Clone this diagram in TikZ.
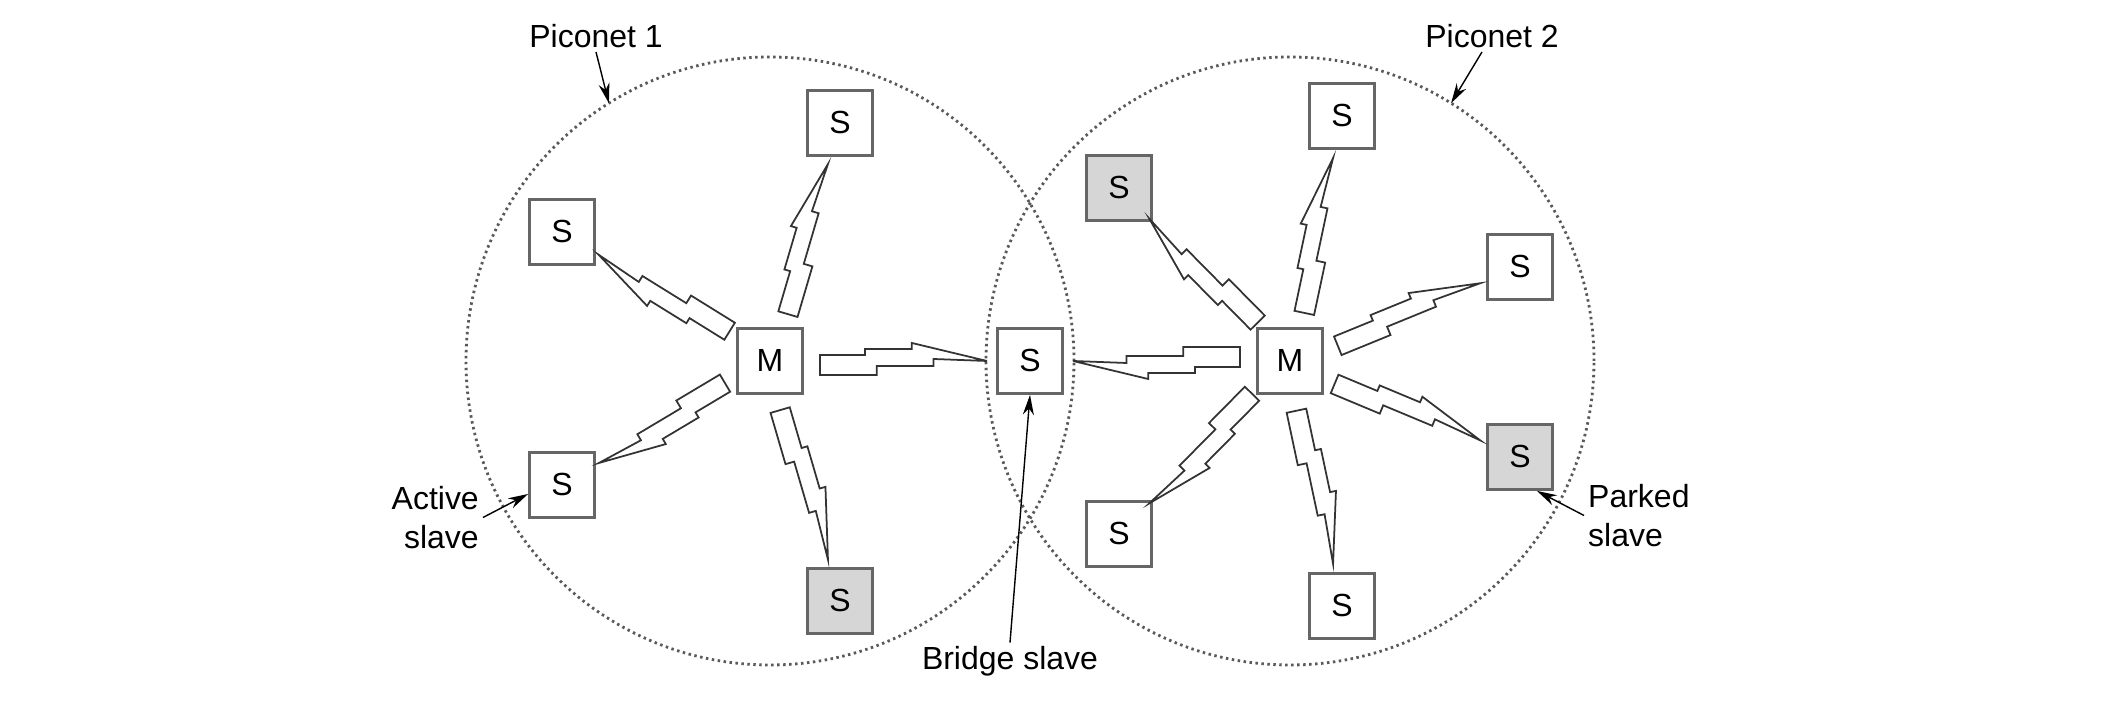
\documentclass[tikz,border=0pt]{standalone}
\usepackage{fontspec}
\setmainfont{Liberation Sans}
\usetikzlibrary{arrows.meta}
\usetikzlibrary{calc}
\tikzstyle{sbox} = [draw=black!60, line width=0.8pt, fill=white, minimum size=0.65cm, inner sep=0pt]
\tikzstyle{lbl} = [inner sep=1pt]
\tikzstyle{arr} = [-{Stealth[length=2mm,width=1.1mm]}, line width=0.4pt]
\tikzstyle{net} = [draw=black!65, line width=0.8pt, dash pattern=on 0.7pt off 1pt]
\tikzstyle{bolt} = [draw=black!80, fill=white, line width=0.5pt,
  to path={let \p1=($(\tikztostart)!0.5cm!(\tikztotarget)$),
               \p2=($(\tikztotarget)!0.43cm!(\tikztostart)$) in
    ($(\p1)!0.06cm!90:(\p2)$)
    -- ($(\p1)!0.27!(\p2)!0.06cm!90:(\p2)$) -- ($(\p1)!0.27!(\p2)!0.12cm!90:(\p2)$)
    -- ($(\p1)!0.55!(\p2)!0.12cm!90:(\p2)$) -- ($(\p1)!0.55!(\p2)!0.18cm!90:(\p2)$)
    -- (\p2)
    -- ($(\p1)!0.68!(\p2)!0.02cm!90:(\p2)$) -- ($(\p1)!0.68!(\p2)!0.05cm!-90:(\p2)$)
    -- ($(\p1)!0.34!(\p2)!0.05cm!-90:(\p2)$) -- ($(\p1)!0.34!(\p2)!0.14cm!-90:(\p2)$)
    -- ($(\p1)!0.14cm!-90:(\p2)$) -- cycle}]

\begin{document}
\begin{tikzpicture}[font=\fontsize{9.1}{11}\selectfont]
\definecolor{parkgray}{gray}{0.84}
\useasboundingbox (0,0) rectangle (21.26,7.25);
    % Draw the two piconets
    \coordinate (c_1) at (7.70,3.64);
    \coordinate (c_2) at (12.90,3.64);
    \draw[net] (c_1) circle (3.04);
    \draw[net] (c_2) circle (3.04);

    % Masters and bridge
    \node[sbox] (m_1) at (c_1) {M};
    \node[sbox] (m_2) at (c_2) {M};
    \node[sbox] (b_1) at (10.30,3.64) {S};

    % Slaves of piconet 1
    \node[sbox] (s_1) at (8.40,6.02) {S};
    \node[sbox] (s_2) at (5.62,4.93) {S};
    \node[sbox] (s_3) at (5.62,2.40) {S};
    \node[sbox,fill=parkgray] (s_4) at (8.40,1.24) {S};

    % Slaves of piconet 2
    \node[sbox,fill=parkgray] (s_5) at (11.19,5.37) {S};
    \node[sbox] (s_6) at (13.42,6.09) {S};
    \node[sbox] (s_7) at (15.20,4.58) {S};
    \node[sbox,fill=parkgray] (s_8) at (15.20,2.68) {S};
    \node[sbox] (s_9) at (13.42,1.19) {S};
    \node[sbox] (s_10) at (11.19,1.91) {S};

    % Draw the radio links
    \foreach \sl in {s_1,s_2,s_3,s_4,b_1}
        \draw[bolt] (m_1) to (\sl);
    \foreach \sl in {s_5,s_6,s_7,s_8,s_9,s_10,b_1}
        \draw[bolt] (m_2) to (\sl);

    % Labels
    \node[lbl] (lbl_1) at (5.96,6.89) {Piconet 1};
    \node[lbl] (lbl_2) at (14.92,6.89) {Piconet 2};
    \node[lbl,align=right,anchor=east] (act) at (4.83,2.075) {Active\\slave};
    \node[lbl,align=left,anchor=west] (park) at (15.84,2.095) {Parked\\slave};
    \node[lbl,anchor=base] (brl) at (10.10,0.55) {Bridge slave};

    \coordinate (p_1) at ($(c_1)+(122:3.04)$);
    \coordinate (p_2) at ($(c_2)+(58:3.04)$);
    \draw[arr] (lbl_1.south) -- (p_1);
    \draw[arr] ([xshift=-1mm]lbl_2.south) -- (p_2);
    \draw[arr] (act.east) -- ([yshift=-0.9mm]s_3.west);
    \draw[arr] (park.west) -- ([xshift=-1.7mm]s_8.south east);
    \draw[arr] (brl.north) -- (b_1.south);

\end{tikzpicture}
\end{document}
